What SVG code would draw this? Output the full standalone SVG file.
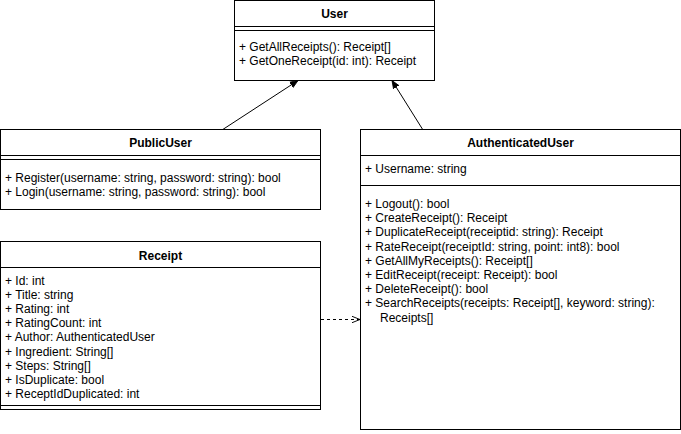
<svg xmlns="http://www.w3.org/2000/svg" width="681" height="434" viewBox="0 0 681 434">
<style>
  .box { fill: #ffffff; stroke: #000000; stroke-width: 1; }
  .sep { stroke: #000000; stroke-width: 1; fill: none; }
  .title { font-family: "Liberation Sans", Arial, sans-serif; font-size: 12px; font-weight: bold; fill: #000000; text-anchor: middle; }
  .item { font-family: "Liberation Sans", Arial, sans-serif; font-size: 12px; fill: #000000; }
  .edge { stroke: #000000; stroke-width: 1; fill: none; }
  .dash { stroke-dasharray: 3 3; }
</style>
<defs>
  <marker id="block" viewBox="0 0 10 10" refX="10" refY="5" markerWidth="8" markerHeight="8" markerUnits="userSpaceOnUse" orient="auto">
    <path d="M0,1 L10,5 L0,9 Z" fill="#000000" stroke="#000000" stroke-width="1"/>
  </marker>
  <marker id="open" viewBox="0 0 10 10" refX="10" refY="5" markerWidth="8" markerHeight="8" markerUnits="userSpaceOnUse" orient="auto">
    <path d="M0,1 L10,5 L0,9" fill="none" stroke="#000000" stroke-width="1.2"/>
  </marker>
</defs>
<rect width="681" height="434" fill="#ffffff"/>

<g id="connectors">
  <line class="edge" x1="222" y1="130" x2="298" y2="80.5" marker-end="url(#block)"/>
  <line class="edge" x1="423" y1="130" x2="392" y2="80.5" marker-end="url(#block)"/>
  <line class="edge dash" x1="321" y1="319.5" x2="360" y2="319.5" marker-end="url(#open)"/>
</g>

<g id="User">
  <rect class="box" x="234.5" y="0.5" width="200" height="80"/>
  <line class="sep" x1="234.5" y1="26.5" x2="434.5" y2="26.5"/>
  <line class="sep" x1="234.5" y1="30.5" x2="434.5" y2="30.5"/>
  <text class="title" x="334.5" y="17.5">User</text>
  <text class="item" x="239" y="50.5">+ GetAllReceipts(): Receipt[]</text>
  <text class="item" x="239" y="65">+ GetOneReceipt(id: int): Receipt</text>
</g>

<g id="PublicUser">
  <rect class="box" x="0.5" y="129.5" width="320" height="80"/>
  <line class="sep" x1="0.5" y1="155.5" x2="320.5" y2="155.5"/>
  <line class="sep" x1="0.5" y1="159.5" x2="320.5" y2="159.5"/>
  <text class="title" x="160.5" y="147">PublicUser</text>
  <text class="item" x="5" y="181.5">+ Register(username: string, password: string): bool</text>
  <text class="item" x="5" y="195.5">+ Login(username: string, password: string): bool</text>
</g>

<g id="AuthenticatedUser">
  <rect class="box" x="360.5" y="129.5" width="320" height="300"/>
  <line class="sep" x1="360.5" y1="155.5" x2="680.5" y2="155.5"/>
  <line class="sep" x1="360.5" y1="185.5" x2="680.5" y2="185.5"/>
  <text class="title" x="520.5" y="147">AuthenticatedUser</text>
  <text class="item" x="365" y="173">+ Username: string</text>
  <text class="item" x="365" y="208">+ Logout(): bool</text>
  <text class="item" x="365" y="222.2">+ CreateReceipt(): Receipt</text>
  <text class="item" x="365" y="236.4">+ DuplicateReceipt(receiptid: string): Receipt</text>
  <text class="item" x="365" y="250.6">+ RateReceipt(receiptId: string, point: int8): bool</text>
  <text class="item" x="365" y="264.8">+ GetAllMyReceipts(): Receipt[]</text>
  <text class="item" x="365" y="279">+ EditReceipt(receipt: Receipt): bool</text>
  <text class="item" x="365" y="293.2">+ DeleteReceipt(): bool</text>
  <text class="item" x="365" y="307.4">+ SearchReceipts(receipts: Receipt[], keyword: string):</text>
  <text class="item" x="380" y="321.6">Receipts[]</text>
</g>

<g id="Receipt">
  <rect class="box" x="0.5" y="241.5" width="320" height="168"/>
  <line class="sep" x1="0.5" y1="267.5" x2="320.5" y2="267.5"/>
  <line class="sep" x1="0.5" y1="405.5" x2="320.5" y2="405.5"/>
  <text class="title" x="160.5" y="259.5">Receipt</text>
  <text class="item" x="5" y="285">+ Id: int</text>
  <text class="item" x="5" y="299.1">+ Title: string</text>
  <text class="item" x="5" y="313.2">+ Rating: int</text>
  <text class="item" x="5" y="327.3">+ RatingCount: int</text>
  <text class="item" x="5" y="341.4">+ Author: AuthenticatedUser</text>
  <text class="item" x="5" y="355.5">+ Ingredient: String[]</text>
  <text class="item" x="5" y="369.6">+ Steps: String[]</text>
  <text class="item" x="5" y="383.7">+ IsDuplicate: bool</text>
  <text class="item" x="5" y="397.8">+ ReceptIdDuplicated: int</text>
</g>
</svg>
